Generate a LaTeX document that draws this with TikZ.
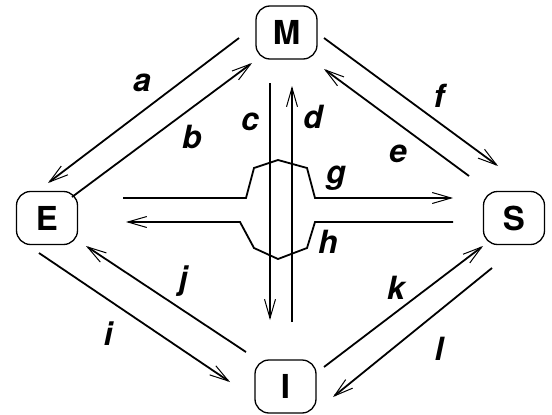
\documentclass[tikz,border=0pt]{standalone}
\usepackage{fontspec}
\setmainfont{TeX Gyre Heros}
\usetikzlibrary{arrows.meta,calc}
\tikzset{
  statebox/.style={draw, line width=1.3pt, rounded corners=14pt, minimum width=61pt, minimum height=53pt, inner sep=0pt, font=\fontsize{33}{36}\selectfont\bfseries},
  flow/.style={line width=1.8pt, -{Straight Barb[length=19pt,width=11pt,line width=1pt]}},
  lbl/.style={anchor=base, inner sep=0pt, font=\fontsize{32}{34}\selectfont\bfseries\itshape}
}
\begin{document}
\begin{tikzpicture}[x=1pt,y=-1pt]
\useasboundingbox (0,0) rectangle (552,415);
\node[statebox] (M) at (286.5,32.5) {M};
\node[statebox] (E) at (47,218) {E};
\node[statebox] (S) at (514,218) {S};
\node[statebox] (I) at (285.5,386.5) {I};
% outer arrows
\draw[flow] ($(M.center)+(-47.5,5.5)$) -- ($(E.center)+(1,-35)$);
\draw[flow] ($(E.center)+(25,-21)$) -- ($(M.center)+(-34.5,30.5)$);
\draw[flow] ($(M.center)+(37.5,5.5)$) -- ($(S.center)+(-16,-52)$);
\draw[flow] ($(S.center)+(-45,-42)$) -- ($(M.center)+(37.5,36.5)$);
\draw[flow] ($(E.center)+(-8,35)$) -- ($(I.center)+(-55.5,-4.5)$);
\draw[flow] ($(I.center)+(-39.5,-34.5)$) -- ($(E.center)+(39,28)$);
\draw[flow] ($(I.center)+(38.5,-19.5)$) -- ($(S.center)+(-31,28)$);
\draw[flow] ($(S.center)+(-22,50)$) -- ($(I.center)+(47.5,10.5)$);
% vertical arrows
\draw[flow] ($(M.center)+(-16.5,50.5)$) -- ($(I.center)+(-15.5,-66.5)$);
\draw[flow] ($(I.center)+(6.5,-64.5)$) -- ($(M.center)+(5.5,53.5)$);
% horizontal arrows
\draw[flow] ($(E.center)+(76,-20)$) -- (246,198) -- (254,168) -- (278,160) -- (307,168) -- (315,198) -- ($(S.center)+(-61,-20)$);
\draw[flow] ($(S.center)+(-61,4)$) -- (315,222) -- (307,248) -- (278,259) -- (254,248) -- (240,222) -- ($(E.center)+(79,4)$);
% labels
\node[lbl] (la) at (142,91) {a};
\node[lbl] (lb) at (192,148) {b};
\node[lbl] (lc) at (250,130) {c};
\node[lbl] (ld) at (313,128) {d};
\node[lbl] (le) at (398,162) {e};
\node[lbl] (lf) at (439,107) {f};
\node[lbl] (lg) at (336,183) {g};
\node[lbl] (lh) at (328,253) {h};
\node[lbl] (li) at (108,345) {i};
\node[lbl] (lj) at (183,289) {j};
\node[lbl] (lk) at (396,299) {k};
\node[lbl] (ll) at (439,360) {l};
\end{tikzpicture}
\end{document}
